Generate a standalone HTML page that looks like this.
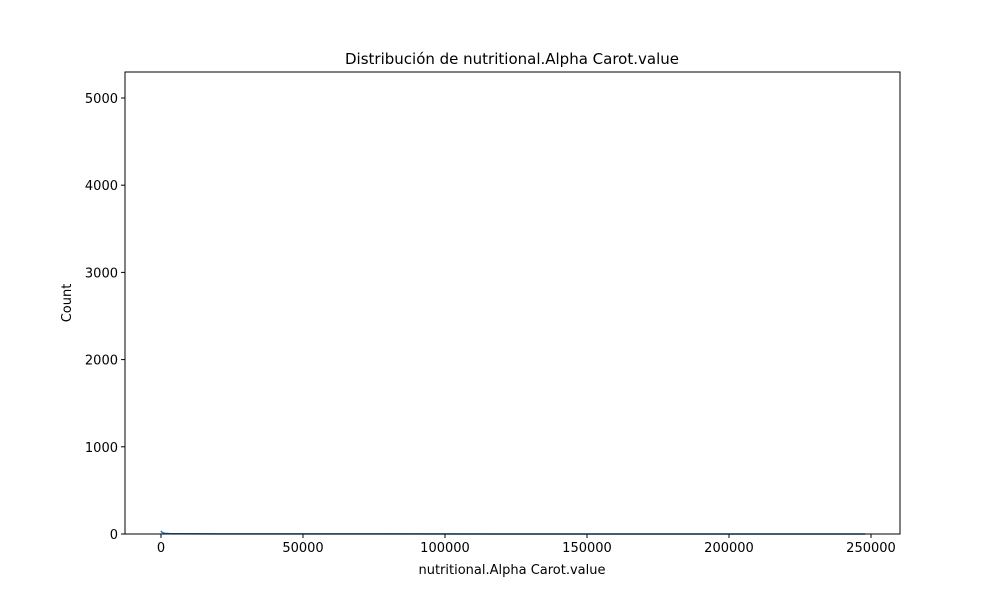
<!DOCTYPE html>
<html><head><meta charset="utf-8"><style>
body{margin:0;background:#fff;font-family:"Liberation Sans","DejaVu Sans",sans-serif;}
svg text{font-family:"DejaVu Sans","Liberation Sans",sans-serif;font-size:13px;fill:#000}
</style></head><body>
<svg id="chart" width="1000" height="600">
<rect width="1000" height="600" fill="#fff"/>
<text x="512" y="64" text-anchor="middle" style="font-size:15px">Distribución de nutritional.Alpha Carot.value</text>
<text x="512" y="574" text-anchor="middle">nutritional.Alpha Carot.value</text>
<text transform="translate(71,303) rotate(-90)" text-anchor="middle">Count</text>
<g id="xt"></g><g id="yt"></g><g id="marks"></g>
<rect x="125" y="72" width="775" height="462" fill="none" stroke="#000" stroke-width="1"/>
</svg>
<script>
const xTicks=[0,50000,100000,150000,200000,250000];
const yTicks=[0,1000,2000,3000,4000,5000];
const kdeX=[0,300,800,1500,3000,8000,20000,60000,120000,200000,248000];
const kdeY=[35,22,12,7,4,2.5,1.5,1,0.7,0.5,0.5];
const X0=-12676,X1=260211,Y0=0,Y1=5298;
const L=125,R=900,T=72,B=534;
const sx=v=>L+(v-X0)/(X1-X0)*(R-L);
const sy=v=>B-(v-Y0)/(Y1-Y0)*(B-T);
const NS="http://www.w3.org/2000/svg";
function mk(t,a,p){const e=document.createElementNS(NS,t);for(const k in a)e.setAttribute(k,a[k]);p.appendChild(e);return e;}
const xt=document.getElementById('xt'),yt=document.getElementById('yt'),mg=document.getElementById('marks');
xTicks.forEach(v=>{const x=sx(v);
const l=mk('line',{x1:x,x2:x,y1:B,y2:B+4,stroke:'#000'},xt);


const t=mk('text',{x:x,y:B+18,'text-anchor':'middle'},xt);t.textContent=v;

});
yTicks.forEach(v=>{const y=sy(v);
const l=mk('line',{x1:L-4,x2:L,y1:y,y2:y,stroke:'#000'},yt);


const t=mk('text',{x:L-7,y:y+5,'text-anchor':'end'},yt);t.textContent=v;

});
const p=mk('polyline',{points:kdeX.map((x,i)=>sx(x)+','+sy(kdeY[i])).join(' '),fill:'none',stroke:'#1f77b4','stroke-width':1.5},mg);


</script>
</body></html>
